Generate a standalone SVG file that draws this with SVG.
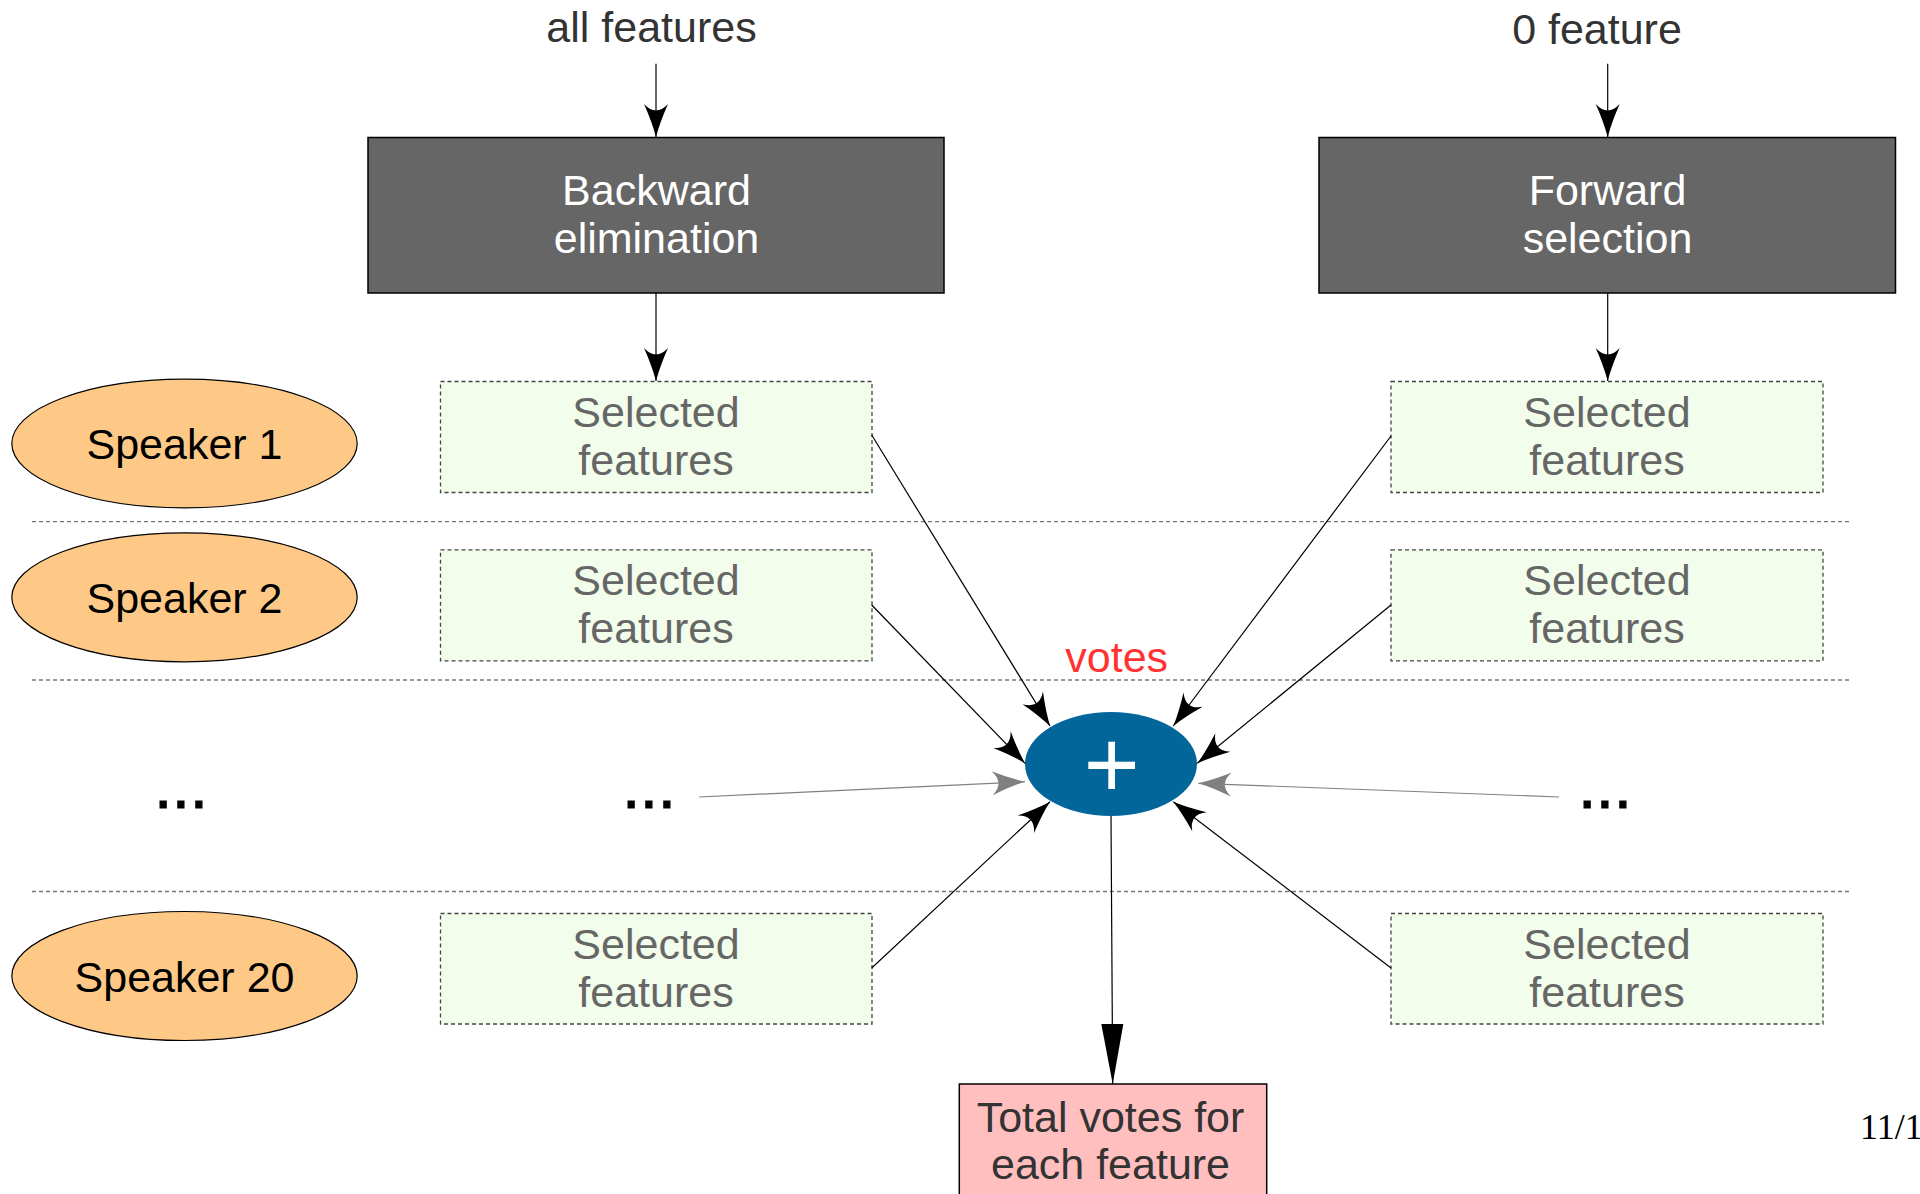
<svg xmlns="http://www.w3.org/2000/svg" width="1920" height="1194" viewBox="0 0 1920 1194">
<style>
text{font-family:"Liberation Sans",Arial,sans-serif;font-size:43px;text-anchor:middle}
.top{fill:#333333}
.dark{fill:#666666;stroke:#000;stroke-width:1.5}
.dtext{fill:#ffffff;font-size:43px}
.sel{fill:#f2fdeb;stroke:#444;stroke-width:1.3;stroke-dasharray:4 3}
.stext{fill:#666666}
.spk{fill:#fec987;stroke:#000;stroke-width:1.2}
.ktext{fill:#000}
.sep{stroke:#777;stroke-width:1.3;stroke-dasharray:4 3;fill:none}
.conn{stroke:#000;stroke-width:1.2;fill:none}
.gconn{stroke:#808080;stroke-width:1.2;fill:none}
.dots{font-size:64px;fill:#000;stroke:#000;stroke-width:1.2}
</style>
<defs>
<marker id="ac" viewBox="-36 -14 38 28" refX="0" refY="0" markerWidth="38" markerHeight="28" markerUnits="userSpaceOnUse" orient="auto">
<path d="M0,0 Q-15,-4 -33,-12 Q-20,0 -33,12 Q-15,4 0,0 Z" fill="#000"/>
</marker>
<marker id="ag" viewBox="-36 -14 38 28" refX="0" refY="0" markerWidth="38" markerHeight="28" markerUnits="userSpaceOnUse" orient="auto">
<path d="M0,0 Q-15,-4 -33,-12 Q-20,0 -33,12 Q-15,4 0,0 Z" fill="#808080"/>
</marker>
<marker id="at" viewBox="-62 -12 64 24" refX="0" refY="0" markerWidth="64" markerHeight="24" markerUnits="userSpaceOnUse" orient="auto">
<path d="M0,0 L-60,-11 L-60,11 Z" fill="#000"/>
</marker>
</defs>

<g id="separators">
<line class="sep" x1="32" y1="521.7" x2="1849" y2="521.7"/>
<line class="sep" x1="32" y1="680" x2="1849" y2="680"/>
<line class="sep" x1="32" y1="891.5" x2="1849" y2="891.5"/>
</g>

<g id="label-all-features"><text class="top" x="651.5" y="42">all features</text></g>
<g id="label-0-feature"><text class="top" x="1597" y="44">0 feature</text></g>

<g id="backward">
<rect class="dark" x="368" y="137.5" width="576" height="155.5"/>
<text class="dtext" x="656.5" y="205">Backward</text>
<text class="dtext" x="656.5" y="253">elimination</text>
</g>
<g id="forward">
<rect class="dark" x="1319" y="137.5" width="576.5" height="155.5"/>
<text class="dtext" x="1607.5" y="205">Forward</text>
<text class="dtext" x="1607.5" y="253">selection</text>
</g>

<g id="speaker1">
<ellipse class="spk" cx="184.5" cy="443.5" rx="172.7" ry="64.3"/>
<text class="ktext" x="184.5" y="459.3">Speaker 1</text>
</g>
<g id="speaker2">
<ellipse class="spk" cx="184.5" cy="597.3" rx="172.7" ry="64.5"/>
<text class="ktext" x="184.5" y="613">Speaker 2</text>
</g>
<g id="speaker20">
<ellipse class="spk" cx="184.5" cy="976" rx="172.7" ry="64.5"/>
<text class="ktext" x="184.5" y="991.8">Speaker 20</text>
</g>

<g id="sel-b1">
<rect class="sel" x="440.5" y="381.5" width="431.5" height="111"/>
<text class="stext" x="656" y="427">Selected</text>
<text class="stext" x="656" y="475">features</text>
</g>
<g id="sel-b2">
<rect class="sel" x="440.5" y="549.8" width="431.5" height="111"/>
<text class="stext" x="656" y="595.4">Selected</text>
<text class="stext" x="656" y="643.4">features</text>
</g>
<g id="sel-b20">
<rect class="sel" x="440.5" y="913.5" width="431.5" height="110.5"/>
<text class="stext" x="656" y="958.6">Selected</text>
<text class="stext" x="656" y="1006.6">features</text>
</g>
<g id="sel-f1">
<rect class="sel" x="1391" y="381.5" width="432" height="111"/>
<text class="stext" x="1607" y="427">Selected</text>
<text class="stext" x="1607" y="475">features</text>
</g>
<g id="sel-f2">
<rect class="sel" x="1391" y="549.8" width="432" height="111"/>
<text class="stext" x="1607" y="595.4">Selected</text>
<text class="stext" x="1607" y="643.4">features</text>
</g>
<g id="sel-f20">
<rect class="sel" x="1391" y="913.5" width="432" height="110.5"/>
<text class="stext" x="1607" y="958.6">Selected</text>
<text class="stext" x="1607" y="1006.6">features</text>
</g>

<g id="dots-speaker"><text class="dots" x="181" y="807.5">...</text></g>
<g id="dots-backward"><text class="dots" x="649" y="807.5">...</text></g>
<g id="dots-forward"><text class="dots" x="1605" y="807.5">...</text></g>

<g id="votes-label"><text x="1116.7" y="671.7" fill="#ff3333">votes</text></g>

<g id="sum">
<ellipse cx="1111" cy="764" rx="86" ry="52" fill="#02669a"/>
<rect x="1088.3" y="761.7" width="46.7" height="7.3" fill="#fff"/>
<rect x="1108.3" y="741.7" width="6.7" height="47.3" fill="#fff"/>
</g>

<g id="total">
<rect x="959.3" y="1084" width="307.4" height="130" fill="#ffbfbf" stroke="#000" stroke-width="1.5"/>
<text class="top" x="1110.5" y="1131.7">Total votes for</text>
<text class="top" x="1110.5" y="1179">each feature</text>
</g>

<g id="connectors">
<line class="conn" x1="656" y1="63.7" x2="656" y2="137" marker-end="url(#ac)"/>
<line class="conn" x1="1607.7" y1="63.7" x2="1607.7" y2="137" marker-end="url(#ac)"/>
<line class="conn" x1="656" y1="293" x2="656" y2="381" marker-end="url(#ac)"/>
<line class="conn" x1="1607.7" y1="293" x2="1607.7" y2="381" marker-end="url(#ac)"/>
<line class="conn" x1="871.7" y1="435" x2="1050" y2="726" marker-end="url(#ac)"/>
<line class="conn" x1="871.7" y1="605" x2="1025" y2="763.3" marker-end="url(#ac)"/>
<line class="gconn" x1="699" y1="797" x2="1025" y2="781.7" marker-end="url(#ag)"/>
<line class="conn" x1="871.7" y1="968" x2="1050" y2="801.7" marker-end="url(#ac)"/>
<line class="conn" x1="1391" y1="436" x2="1173.3" y2="726" marker-end="url(#ac)"/>
<line class="conn" x1="1391" y1="605" x2="1197.3" y2="763.3" marker-end="url(#ac)"/>
<line class="gconn" x1="1559" y1="797" x2="1198.3" y2="783.3" marker-end="url(#ag)"/>
<line class="conn" x1="1391" y1="968" x2="1173.3" y2="801.7" marker-end="url(#ac)"/>
<line class="conn" x1="1111" y1="816" x2="1112.7" y2="1084" marker-end="url(#at)"/>
</g>

<g id="page-number"><text x="1860" y="1139" style="font-family:'Liberation Serif','Times New Roman',serif;font-size:36px;text-anchor:start;fill:#000">11/1</text></g>
</svg>
